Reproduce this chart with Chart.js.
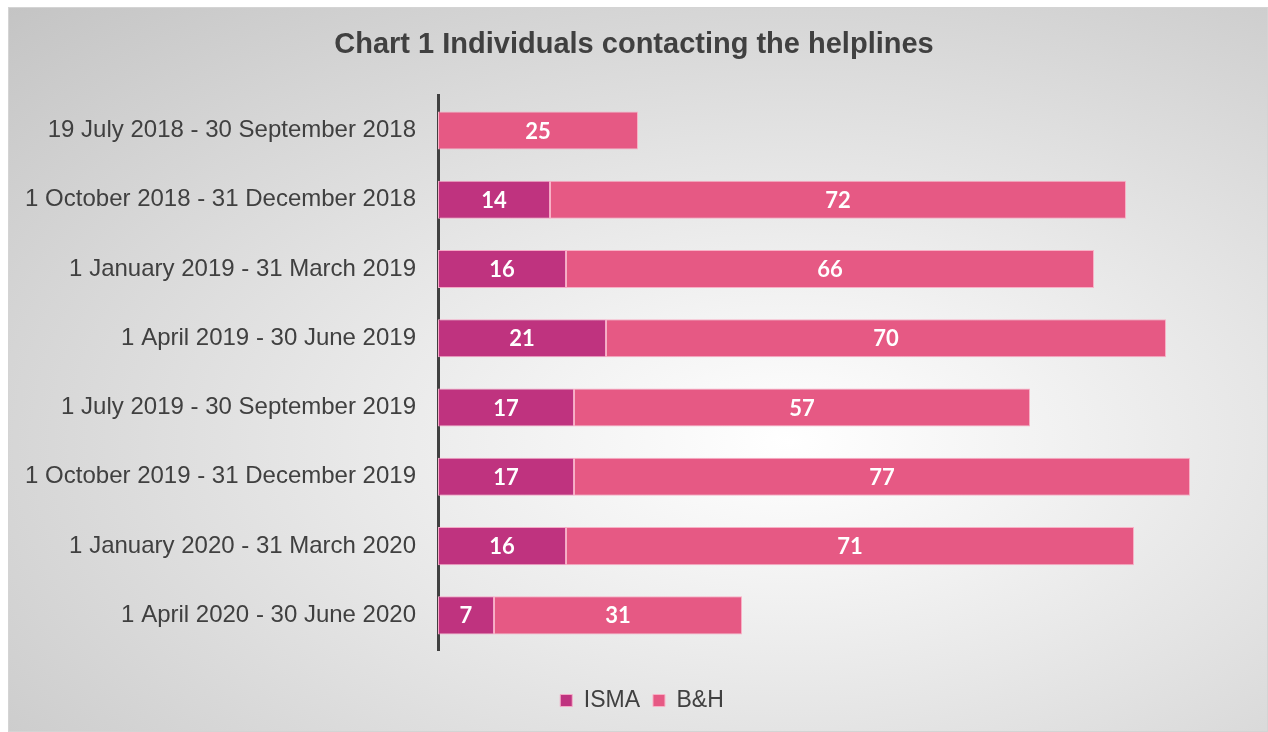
<!DOCTYPE html>
<html>
<head>
<meta charset="utf-8">
<script src="https://cdn.jsdelivr.net/npm/chart.js@4.4.1/dist/chart.umd.min.js"></script>
<style>
  html, body { margin: 0; padding: 0; background: #fff; width: 1268px; height: 732px; overflow: hidden; }
  #panel {
    position: absolute; left: 8px; top: 7px; width: 1258px; height: 723px;
    border: 1px solid #d4d4d4;
    background: radial-gradient(ellipse farthest-corner at 62% 60%, #ffffff 0%, #f3f3f3 22%, #c4c4c4 100%);
  }
  #wrap { position: absolute; left: 0; top: 0; width: 1268px; height: 732px; }
</style>
</head>
<body>
<div id="panel"></div>
<div id="wrap"><canvas id="chart"></canvas></div>
<script>
// --- data ---
const periods = [
    "19 July 2018 - 30 September 2018",
    "1 October 2018 - 31 December 2018",
    "1 January 2019 - 31 March 2019",
    "1 April 2019 - 30 June 2019",
    "1 July 2019 - 30 September 2019",
    "1 October 2019 - 31 December 2019",
    "1 January 2020 - 31 March 2020",
    "1 April 2020 - 30 June 2020"
];
const ismaValues = [null, 14, 16, 21, 17, 17, 16, 7];
const bhValues = [25, 72, 66, 70, 57, 77, 71, 31];

const chartTitle = "Chart 1 Individuals contacting the helplines";

// white numbers in the middle of each segment
const barLabels = {
    id: "barLabels",
    afterDatasetsDraw(chart) {
        const ctx = chart.ctx;
        ctx.save();
        ctx.fillStyle = "#ffffff";
        ctx.font = "bold 22px Lato, 'DejaVu Sans', sans-serif";
        ctx.textAlign = "center";
        ctx.textBaseline = "middle";
        chart.data.datasets.forEach((ds, i) => {
            const meta = chart.getDatasetMeta(i);
            meta.data.forEach((bar, j) => {
                const v = ds.data[j];
                if (v === null || v === undefined) return;
                const x = (bar.x + bar.base) / 2;
                ctx.fillText(String(v), x, bar.y + 1);
            });
        });
        ctx.restore();
    }
};

// nudge legend a little right (original sits slightly off-centre)
const legendNudge = {
    id: "legendNudge",
    afterLayout(chart) {
        chart.legend.left += 8;
        chart.legend.right += 8;
    }
};

const ctx = document.getElementById("chart").getContext("2d");
const chart = new Chart(ctx, {
    type: "bar",
    data: {
        labels: periods,
        datasets: [
            { label: "ISMA", data: ismaValues, backgroundColor: "#bf337f", borderColor: "#f4a9c6", borderWidth: 1, borderSkipped: false },
            { label: "B&H", data: bhValues, backgroundColor: "#e65984", borderColor: "#f8b1c6", borderWidth: 1, borderSkipped: false }
        ]
    },
    options: {
        indexAxis: "y",
        responsive: true,
        maintainAspectRatio: false,
        animation: false,
        datasets: { bar: { categoryPercentage: 1, barPercentage: 0.55 } },
        layout: { padding: { left: 0, right: 0, top: 0, bottom: 10 } },
        scales: {
            x: {
                stacked: true, min: 0, max: 103.75,
                grid: { display: false },
                border: { display: false },
                ticks: { display: false },
                afterFit: (scale) => { scale.height = 26; }
            },
            y: {
                stacked: true,
                grid: { display: false, drawTicks: false },
                border: { display: true, color: "#404040", width: 3 },
                ticks: { color: "#404040", padding: 22, font: { family: "'Liberation Sans', Arial, sans-serif", size: 24 } },
                afterFit: (scale) => { scale.width = 438; }
            }
        },
        plugins: {
            title: {
                display: true,
                text: chartTitle,
                color: "#404040",
                font: { family: "'Liberation Sans', Arial, sans-serif", size: 29, weight: "bold" },
                padding: { top: 28, bottom: 33 }
            },
            legend: {
                position: "bottom",
                labels: {
                    color: "#404040",
                    boxWidth: 12, boxHeight: 12,
                    padding: 13,
                    font: { family: "'Liberation Sans', Arial, sans-serif", size: 23 }
                }
            },
            tooltip: { enabled: false }
        }
    },
    plugins: [barLabels, legendNudge]
});
</script>
</body>
</html>
